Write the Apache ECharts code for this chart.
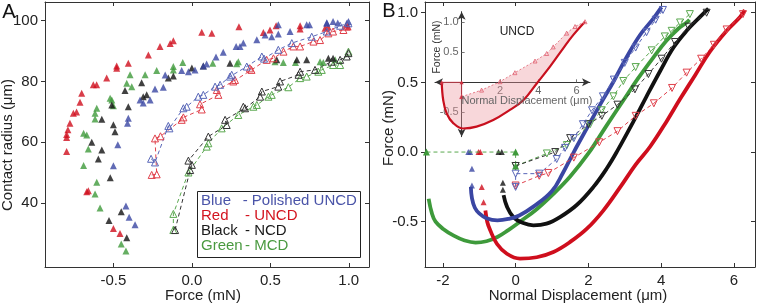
<!DOCTYPE html>
<html><head><meta charset="utf-8">
<script src="https://cdn.jsdelivr.net/npm/echarts@6/dist/echarts.min.js"></script>
<style>html,body{margin:0;padding:0;background:#fff}#c{width:757px;height:306px}</style>
</head><body><div id="c"></div>
<script>
// ---------- Panel A: contact radius (um) vs force (mN) ----------
const aXTicks = [-0.5, 0.0, 0.5, 1.0];
const aYTicks = [40, 60, 80, 100];
const aBlueLoad = [[-0.362,32.9],[-0.4,35.4],[-0.42,39.1],[-0.5,52.3],[-0.472,59.2],[-0.41,66.3],[-0.405,67.9],[-0.33,73.9],[-0.31,72.9],[-0.266,73.9],[-0.235,77.5],[-0.182,78.1],[-0.17,82.1],[-0.065,83.6],[-0.022,83.2],[0.02,83.8],[0.073,85.1],[0.094,85.7],[0.154,88.0],[0.2,89.6],[0.282,91.5],[0.307,91.5],[0.328,92.6],[0.414,93.7],[0.467,95.3],[0.509,94.7],[0.551,95.6],[0.551,98.6],[0.626,96.4],[0.732,98.6],[0.75,98.6],[0.86,99.3],[0.9,99.7],[0.93,99.2],[0.998,99.7],[0.987,99.1],[0.86,99.1]];
const aBlueUnload = [[-0.26,54.6],[-0.235,53.4],[-0.15,65.4],[-0.143,64.6],[-0.054,71.2],[-0.033,71.7],[0.041,75.0],[0.073,75.6],[0.148,78.3],[0.18,78.9],[0.243,81.6],[0.254,82.2],[0.35,84.9],[0.446,88.2],[0.46,87.5],[0.551,90.4],[0.637,92.6],[0.764,94.7],[0.86,96.4],[0.945,98.3],[0.998,99.1]];
const aRedLoad = [[-0.798,57.0],[-0.798,61.6],[-0.798,62.6],[-0.79,64.1],[-0.777,66.3],[-0.755,69.6],[-0.735,70.0],[-0.713,73.2],[-0.702,76.1],[-0.628,78.9],[-0.607,78.9],[-0.543,81.1],[-0.479,84.3],[-0.479,85.1],[-0.405,86.0],[-0.277,88.7],[-0.203,91.5],[-0.118,93.4],[-0.138,92.5],[0.063,96.2],[0.127,95.8],[0.30,98.0],[0.456,96.1],[0.498,96.9],[0.537,98.3],[0.69,98.3],[0.69,97.2],[0.849,97.5],[0.868,98.0],[0.987,98.6],[0.996,98.0],[-0.66,44.1],[-0.67,43.8],[-0.5,31.7],[-0.458,30.1]];
const aRedUnload = [[-0.256,49.3],[-0.224,49.5],[-0.235,61.3],[-0.2,62.0],[-0.065,67.4],[-0.054,68.2],[0.063,70.8],[0.052,72.5],[0.169,75.6],[0.159,77.2],[0.264,80.0],[0.275,80.5],[0.38,83.8],[0.37,84.3],[0.477,87.1],[0.52,87.6],[0.584,89.8],[0.647,91.5],[0.69,91.5],[0.775,93.1],[0.817,93.6],[0.87,95.8],[0.9,96.4],[0.966,96.9],[0.987,98.0]];
const aBlackLoad = [[-0.415,28.7],[-0.528,34.3],[-0.45,37.2],[-0.52,48.4],[-0.596,54.5],[-0.574,57.5],[-0.638,60.0],[-0.49,63.5],[-0.5,65.8],[-0.574,67.6],[-0.405,71.7],[-0.51,72.3],[-0.31,75.0],[-0.288,75.6],[-0.426,77.0],[-0.32,79.6],[-0.15,81.1],[-0.118,81.8],[0.0,84.4],[0.073,85.1],[0.243,86.0],[0.541,87.1],[0.669,87.1],[0.732,87.1],[0.87,87.6],[0.9,87.6]];
const aBlackUnload = [[-0.107,31.2],[-0.011,50.9],[0.0,52.6],[-0.022,54.0],[0.105,61.9],[0.222,65.7],[0.212,67.4],[0.339,71.2],[0.328,71.7],[0.435,75.0],[0.446,76.7],[0.551,78.3],[0.562,80.0],[0.68,82.2],[0.69,83.2],[0.785,83.8],[0.89,86.5],[0.945,87.1],[0.987,88.2],[0.998,89.3]];
const aGreenLoad = [[-0.42,24.3],[-0.45,26.6],[-0.585,38.4],[-0.617,43.0],[-0.606,46.9],[-0.69,52.4],[-0.66,57.8],[-0.67,62.4],[-0.69,63.0],[-0.617,67.7],[-0.617,69.6],[-0.606,71.2],[-0.5,72.0],[-0.51,73.9],[-0.521,74.5],[-0.383,78.3],[-0.415,79.4],[-0.394,82.2],[-0.298,82.2],[-0.224,83.6],[-0.118,83.8],[-0.118,84.9],[-0.058,86.2],[0.133,86.0],[0.286,85.8],[0.296,86.5],[0.53,86.5],[0.583,86.2],[0.66,86.2],[0.817,86.5],[0.838,86.2],[0.913,87.1]];
const aGreenUnload = [[-0.118,31.2],[-0.118,36.5],[-0.022,50.1],[0.095,58.6],[0.105,59.7],[0.19,64.6],[0.296,69.0],[0.392,71.7],[0.414,72.3],[0.488,75.0],[0.509,75.6],[0.615,78.1],[0.69,81.1],[0.732,81.6],[0.806,83.2],[0.828,83.8],[0.9,85.4],[0.945,85.4],[0.998,89.8]];

// ---------- Panel B: force (mN) vs normal displacement (um) ----------
const bXTicks = [-2, 0, 2, 4, 6];
const bYTicks = [-0.5, 0.0, 0.5, 1.0];
const bBlueLoad = [[-1.23,-0.25],[-1.2,-0.33],[-1.12,-0.4],[-1.0,-0.44],[-0.8,-0.475],[-0.5,-0.49],[-0.2,-0.48],[0.1,-0.455],[0.5,-0.39],[1.0,-0.28],[1.3,-0.15],[1.6,0.0],[2.0,0.19],[2.3,0.33],[2.7,0.51],[3.05,0.68],[3.42,0.84],[3.79,0.96],[4.01,1.04]];
const bBlueUnload = [[0,-0.25],[0,-0.155],[0.65,-0.155],[1.13,-0.05],[1.36,0.03],[1.6,0.1],[1.85,0.2],[2.1,0.3],[2.4,0.4],[2.7,0.52],[3.0,0.64],[3.3,0.75],[3.6,0.86],[3.85,0.95],[4.05,1.02]];
const bBlueDrop = [[-1.3,0],[-1.25,0],[-1.2,-0.12],[-1.2,-0.24]];
const bRedLoad = [[-0.83,-0.42],[-0.78,-0.5],[-0.7,-0.56],[-0.51,-0.66],[-0.24,-0.73],[0.12,-0.765],[0.58,-0.755],[1.04,-0.717],[1.5,-0.645],[1.96,-0.55],[2.41,-0.42],[2.88,-0.25],[3.3,-0.09],[3.7,0.04],[4.15,0.22],[4.52,0.38],[4.93,0.55],[5.34,0.72],[5.8,0.87],[6.17,0.97],[6.3,1.02]];
const bRedUnload = [[0,-0.24],[0.65,-0.17],[0.9,-0.15],[1.6,-0.04],[2.3,0.07],[2.8,0.15],[3.3,0.26],[3.8,0.35],[4.3,0.46],[4.7,0.57],[5.1,0.67],[5.45,0.77],[5.8,0.88],[6.25,0.99]];
const bRedDrop = [[-1.02,0],[-0.97,0],[-0.93,-0.25],[-0.88,-0.36]];
const bBlackLoad = [[-0.33,-0.31],[-0.24,-0.39],[-0.06,-0.467],[0.21,-0.51],[0.49,-0.526],[0.85,-0.514],[1.22,-0.467],[1.68,-0.38],[2.14,-0.25],[2.5,-0.12],[2.8,0.01],[3.24,0.22],[3.6,0.4],[3.97,0.58],[4.34,0.75],[4.7,0.87],[5.07,0.97],[5.3,1.03]];
const bBlackUnload = [[0,-0.1],[1.09,0.0],[1.5,0.1],[2.0,0.2],[2.37,0.26],[2.8,0.34],[3.28,0.45],[3.65,0.56],[4.01,0.67],[4.38,0.79],[4.75,0.9],[5.25,1.0]];
const bBlackDrop = [[-0.47,0],[-0.38,0],[-0.35,-0.22],[-0.35,-0.27]];
const bGreenLoad = [[-2.39,-0.335],[-2.3,-0.44],[-2.2,-0.5],[-2.0,-0.55],[-1.7,-0.6],[-1.4,-0.635],[-1.1,-0.65],[-0.8,-0.64],[-0.5,-0.61],[-0.2,-0.56],[0.12,-0.5],[0.58,-0.41],[1.04,-0.3],[1.5,-0.175],[2.0,-0.01],[2.5,0.19],[2.96,0.37],[3.37,0.53],[3.79,0.68],[4.15,0.8],[4.47,0.885],[4.7,0.93],[4.78,0.95]];
const bGreenUnload = [[0,-0.1],[0.86,-0.01],[1.41,0.05],[2.05,0.2],[2.37,0.3],[2.69,0.4],[2.96,0.51],[3.3,0.61],[3.74,0.73],[4.1,0.83],[4.29,0.87],[4.52,0.93],[4.79,0.99]];
const bGreenApproach = [[-2.45,0],[0,0],[0,-0.1]];

// ---------- Inset (UNCD) ----------
const iXTicks = [2, 4, 6];
const iYTicks = [-0.5, 0.5, 1.0];
const iLoad = [[-1.04,0],[-0.96,-0.3],[-0.78,-0.52],[-0.44,-0.68],[0.08,-0.77],[0.78,-0.74],[1.65,-0.63],[2.52,-0.46],[3.22,-0.3],[3.92,-0.02],[4.61,0.26],[5.31,0.57],[5.83,0.79],[6.44,1.01]];
const iUnload = [[0,-0.24],[1.04,-0.13],[2.0,0.01],[2.78,0.16],[3.83,0.355],[4.44,0.48],[4.78,0.59],[5.48,0.82],[5.92,0.93],[6.44,1.01]];
const iApproach = [[-1.04,0],[0,0],[0,-0.24]];

const FONT = 'Liberation Sans, Arial, Helvetica, sans-serif';
const C = {blue:'#3a46a3', red:'#cf0e1d', black:'#111111', green:'#3e9a3b',
           blueH:'#5866b8', redH:'#e0404b', blackH:'#333333', greenH:'#5aa84f'};
const AX = '#333';

function xAx(grid, pos, min, max, ticks, fmt, labels, tickOut) {
  return {type:'value', gridIndex:grid, position:pos, min:min, max:max,
    axisLine:{show:true, onZero:false, lineStyle:{color:AX, width:1}},
    axisTick:{show:true, inside:!tickOut, length:4, customValues:ticks, lineStyle:{color:AX}},
    axisLabel:{show:labels, customValues:ticks, formatter:fmt, fontSize:15, color:'#222', fontFamily:FONT, margin:6},
    splitLine:{show:false}};
}
function yAx(grid, pos, min, max, ticks, fmt, labels, tickOut) {
  return {type:'value', gridIndex:grid, position:pos, min:min, max:max,
    axisLine:{show:true, onZero:false, lineStyle:{color:AX, width:1}},
    axisTick:{show:true, inside:!tickOut, length:4, customValues:ticks, lineStyle:{color:AX}},
    axisLabel:{show:labels, customValues:ticks, formatter:fmt, fontSize:15, color:'#222', fontFamily:FONT, margin:7},
    splitLine:{show:false}};
}
const f1 = v => (Math.abs(v) < 1e-9 ? 0 : v).toFixed(1);
const f0 = v => String(Math.round(v));

const A = {xMin:-0.936, xMax:1.129, yMin:19.06, yMax:106.1};
const B = {xMin:-2.49, xMax:6.58, yMin:-0.825, yMax:1.077};
const I = {xMin:-1.39, xMax:6.7, yMin:-0.907, yMax:1.177};
const IG = {left:435, top:11.7, width:155, height:125};
// inset axes cross at zero: shift them inward from the grid edges
const iXOff = -((0 - I.yMin) / (I.yMax - I.yMin)) * IG.height;
const iYOff = -((0 - I.xMin) / (I.xMax - I.xMin)) * IG.width;

const xAxis = [
  xAx(0,'bottom',A.xMin,A.xMax,aXTicks,f1,true,false),
  xAx(0,'top',A.xMin,A.xMax,aXTicks,f1,false,false),
  xAx(1,'bottom',B.xMin,B.xMax,bXTicks,f0,true,false),
  xAx(1,'top',B.xMin,B.xMax,bXTicks,f0,false,false),
  {type:'value', gridIndex:2, position:'bottom', offset:iXOff, min:I.xMin, max:I.xMax,
   axisLine:{show:true, onZero:false, symbol:['arrow','arrow'], symbolSize:[6,8], lineStyle:{color:'#333', width:1}},
   axisTick:{show:true, inside:true, length:3, customValues:iXTicks, lineStyle:{color:'#777'}},
   axisLabel:{customValues:iXTicks, formatter:f0, fontSize:11, color:'#666', fontFamily:FONT, margin:3},
   splitLine:{show:false}}
];
const yAxis = [
  yAx(0,'left',A.yMin,A.yMax,aYTicks,f0,true,true),
  yAx(0,'right',A.yMin,A.yMax,aYTicks,f0,false,false),
  yAx(1,'left',B.yMin,B.yMax,bYTicks,f1,true,true),
  yAx(1,'right',B.yMin,B.yMax,bYTicks,f1,false,false),
  {type:'value', gridIndex:2, position:'left', offset:iYOff, min:I.yMin, max:I.yMax,
   axisLine:{show:true, onZero:false, symbol:['arrow','arrow'], symbolSize:[6,8], lineStyle:{color:'#333', width:1}},
   axisTick:{show:true, inside:true, length:3, customValues:iYTicks, lineStyle:{color:'#777'}},
   axisLabel:{customValues:iYTicks, formatter:f1, fontSize:11, color:'#666', fontFamily:FONT, margin:3},
   splitLine:{show:false}}
];

function filled(data, color, xi, yi, size) {
  return {type:'scatter', xAxisIndex:xi, yAxisIndex:yi, data:data, symbol:'triangle',
    symbolSize:size||7, itemStyle:{color:color}, z:3, silent:true};
}
function hollowLine(data, color, xi, yi, rot, size) {
  return {type:'line', xAxisIndex:xi, yAxisIndex:yi, data:data, symbol:'triangle', symbolSize:size||7,
    symbolRotate:rot||0, showSymbol:true, smooth:false,
    lineStyle:{color:color, width:1, type:[4,3]},
    itemStyle:{color:'rgba(255,255,255,0)', borderColor:color, borderWidth:1}, z:4, silent:true};
}
function thick(data, color) {
  return {type:'line', xAxisIndex:2, yAxisIndex:2, data:data, showSymbol:false, smooth:0.4,
    lineStyle:{color:color, width:3.8}, z:2, silent:true};
}

const series = [
  filled(aRedLoad, C.red, 0, 0), filled(aGreenLoad, C.green, 0, 0),
  filled(aBlackLoad, C.black, 0, 0), filled(aBlueLoad, C.blue, 0, 0),
  hollowLine(aRedUnload, C.redH, 0, 0), hollowLine(aBlueUnload, C.blueH, 0, 0),
  hollowLine(aGreenUnload, C.greenH, 0, 0), hollowLine(aBlackUnload, C.blackH, 0, 0),
  thick(bGreenLoad, C.green), thick(bRedLoad, C.red), thick(bBlackLoad, C.black), thick(bBlueLoad, C.blue),
  hollowLine(bGreenUnload, C.greenH, 2, 2, 180, 7), hollowLine(bBlackUnload, C.blackH, 2, 2, 180, 7),
  hollowLine(bRedUnload, C.redH, 2, 2, 180, 7), hollowLine(bBlueUnload, C.blueH, 2, 2, 180, 7),
  {type:'line', xAxisIndex:2, yAxisIndex:2, data:bGreenApproach, symbol:'triangle', symbolSize:7,
   lineStyle:{color:C.greenH, width:1, type:[4,3]}, itemStyle:{color:C.green}, z:4, silent:true},
  filled(bBlueDrop, C.blue, 2, 2, 6), filled(bRedDrop, C.red, 2, 2, 6), filled(bBlackDrop, C.black, 2, 2, 6),
  {type:'custom', xAxisIndex:4, yAxisIndex:4, data:[[0,0]], silent:true, z:1,
   renderItem:function(params, api){
     const poly = [];
     iLoad.forEach(p=>poly.push(api.coord(p)));
     for (let k=iUnload.length-1;k>=0;k--) poly.push(api.coord(iUnload[k]));
     poly.push(api.coord([0,0]));
     return {type:'polygon', shape:{points:poly}, style:{fill:'rgba(236,150,158,0.38)', stroke:'none'}};
   }},
  {type:'line', xAxisIndex:4, yAxisIndex:4, data:iLoad, showSymbol:false, smooth:0.4,
   lineStyle:{color:'#c8101e', width:2.2}, z:3, silent:true},
  {type:'line', xAxisIndex:4, yAxisIndex:4, data:iUnload, symbol:'triangle', symbolSize:4,
   lineStyle:{color:'#e06070', width:0.8, type:[2,2]},
   itemStyle:{color:'rgba(255,255,255,0)', borderColor:'#e06070', borderWidth:0.8}, z:3, silent:true},
  {type:'line', xAxisIndex:4, yAxisIndex:4, data:iApproach, symbol:'triangle', symbolSize:4,
   lineStyle:{color:'#d03040', width:0.8}, itemStyle:{color:'#d03040'}, z:3, silent:true}
];

function txt(x, y, s, size, color, opts) {
  return Object.assign({type:'text', x:x, y:y, silent:true, z:10,
    style:{text:s, fontSize:size, fill:color||'#222', fontFamily:FONT, align:'center', verticalAlign:'middle'}}, opts||{});
}
const legendRows = [
  ['Blue', '- Polished UNCD', '#4a54a8', 242.7, 201],
  ['Red', '- UNCD', '#d3141f', 245, 216],
  ['Black', '- NCD', '#1a1a1a', 245, 231],
  ['Green', '- MCD', '#4a9a40', 245, 246]
];
const graphic = [
  txt(9, 12, 'A', 20, '#111'),
  txt(389, 11, 'B', 20, '#111'),
  txt(8, 145, 'Contact radius (\u03bcm)', 15, '#222', {rotation:Math.PI/2}),
  txt(203, 296, 'Force (mN)', 15, '#222'),
  txt(389, 128, 'Force (mN)', 15, '#222', {rotation:Math.PI/2}),
  txt(578, 296, 'Normal Displacement (\u03bcm)', 15, '#222'),
  txt(517, 32, 'UNCD', 12, '#222'),
  txt(437, 47, 'Force (mN)', 10.5, '#333', {rotation:Math.PI/2}),
  txt(527, 101, 'Normal Displacement (\u03bcm)', 11, '#666'),
  {type:'rect', shape:{x:197.5, y:191.5, width:163, height:66}, style:{fill:'#fff', stroke:'#222', lineWidth:1}, z:8, silent:true}
];
legendRows.forEach(r=>{
  graphic.push({type:'text', x:201, y:r[4], z:10, silent:true, style:{text:r[0], fontSize:15, fill:r[2], fontFamily:FONT, align:'left', verticalAlign:'middle'}});
  graphic.push({type:'text', x:r[3], y:r[4], z:10, silent:true, style:{text:r[1], fontSize:15, fill:r[2], fontFamily:FONT, align:'left', verticalAlign:'middle'}});
});

const chart = echarts.init(document.getElementById('c'), null, {renderer:'canvas'});
chart.setOption({
  animation:false, backgroundColor:'#fff',
  grid:[
    {left:45, top:2, width:324, height:265},
    {left:425, top:2, width:330, height:265},
    IG
  ],
  xAxis:xAxis, yAxis:yAxis, series:series, graphic:graphic
});
</script></body></html>
